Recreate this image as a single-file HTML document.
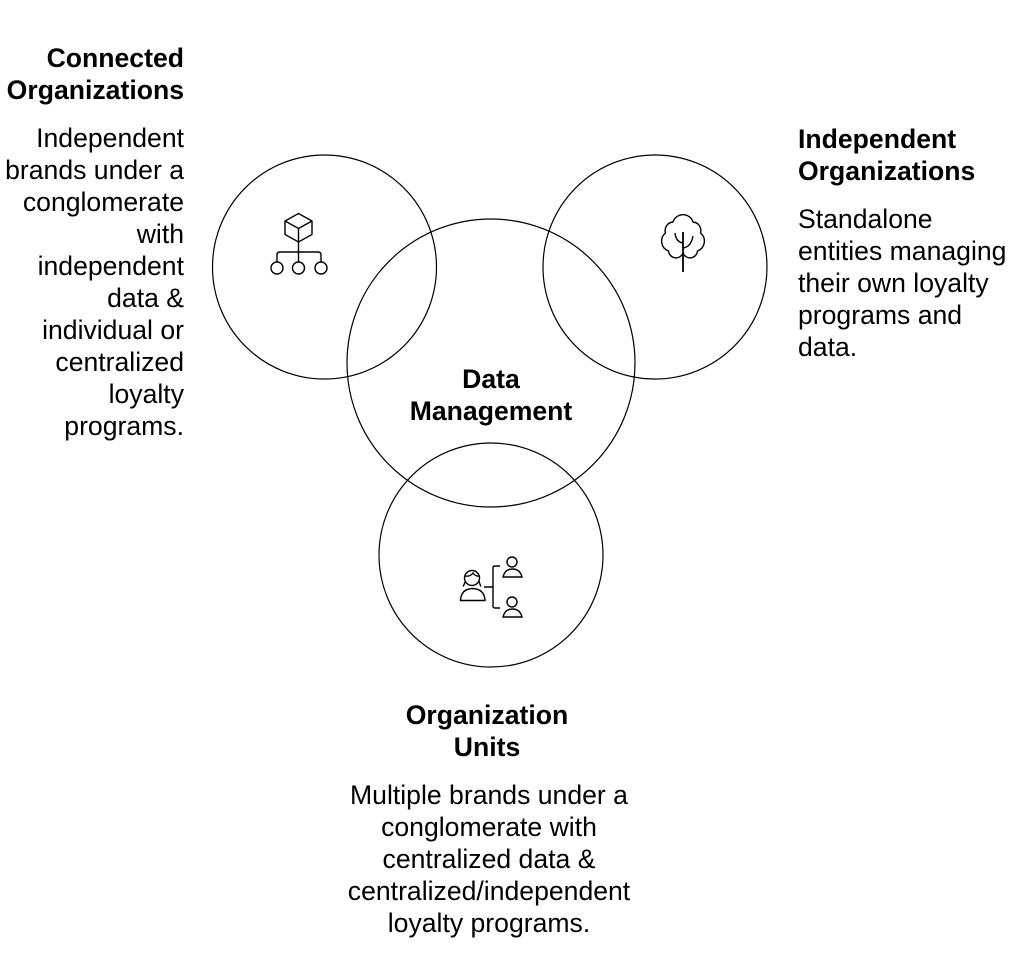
<!DOCTYPE html>
<html><head><meta charset="utf-8"><style>
html,body{margin:0;padding:0;background:#fff}
svg{display:block}
text{font-family:"Liberation Sans",Arial,sans-serif;font-size:26.6px;fill:#000}
.b{font-weight:700}
.e{text-anchor:end}.m{text-anchor:middle}
.l{fill:none;stroke:#000;stroke-width:1.2}
.i{fill:none;stroke:#000;stroke-width:1.4}
</style></head><body>
<svg width="1016" height="972" viewBox="0 0 1016 972" xmlns="http://www.w3.org/2000/svg">
<circle class="l" cx="324.5" cy="267" r="112"/>
<circle class="l" cx="655" cy="267" r="112"/>
<circle class="l" cx="491" cy="363" r="144"/>
<circle class="l" cx="491" cy="555" r="112"/>

<g class="i">
<path d="M298.5 213.5L312 221V234.500L298.500 242L285 234.500V221Z"/>
<path d="M285 221L298.500 228.500L312 221M298.500 228.500V242"/>
<path d="M298.500 242V262M277 262V255Q277 252 280 252H318Q321 252 321 255V262"/>
<circle cx="277" cy="268" r="6"/><circle cx="298.500" cy="268" r="6"/><circle cx="321" cy="268" r="6"/>
</g>

<g class="i">
<path d="M683 232V272" stroke-width="1.8"/>
<path d="M675 233Q676 242 683 243M693 236Q691 247 683 248"/>
<path d="M683 253A7.500 7.500 0 0 1 668.500 251A10.500 10.500 0 0 1 665.500 233A8.500 8.500 0 0 1 673 222A10.500 10.500 0 0 1 693 222A8.500 8.500 0 0 1 700.500 233A10.500 10.500 0 0 1 697.500 251A7.500 7.500 0 0 1 683 253Z"/>
</g>

<g class="i">
<circle cx="472" cy="578" r="7.500"/>
<path d="M465 576Q470 577 473 573Q476 577 480 576M465.500 581Q464 585 463 586.500M479 581Q480 585 481 586.500"/>
<path d="M460.500 600.500H485Q484.500 589 472.500 588.500Q461 589 460.500 600.500Z"/>
<path d="M484 587H493M500 566H495Q493 566 493 568V606Q493 608 495 608H500"/>
<circle cx="512" cy="562" r="5"/><path d="M503 577H522Q520 569 512.500 569Q505 569 503 577Z"/>
<circle cx="512" cy="602" r="5"/><path d="M503 617H522Q520 609 512.500 609Q505 609 503 617Z"/>
</g>

<text class="b e" x="184" y="67">Connected</text>
<text class="b e" x="184" y="99">Organizations</text>
<text class="e" x="184" y="147">Independent</text>
<text class="e" x="184" y="179">brands under a</text>
<text class="e" x="184" y="211">conglomerate</text>
<text class="e" x="184" y="243">with</text>
<text class="e" x="184" y="275">independent</text>
<text class="e" x="184" y="307">data &amp;</text>
<text class="e" x="184" y="339">individual or</text>
<text class="e" x="184" y="371">centralized</text>
<text class="e" x="184" y="403">loyalty</text>
<text class="e" x="184" y="435">programs.</text>

<text class="b" x="798" y="148">Independent</text>
<text class="b" x="798" y="180">Organizations</text>
<text x="798" y="228">Standalone</text>
<text x="798" y="260">entities managing</text>
<text x="798" y="292">their own loyalty</text>
<text x="798" y="324">programs and</text>
<text x="798" y="356">data.</text>

<text class="b m" x="491" y="388">Data</text>
<text class="b m" x="491" y="420">Management</text>

<text class="b m" x="487" y="724">Organization</text>
<text class="b m" x="487" y="756">Units</text>
<text class="m" x="489" y="804">Multiple brands under a</text>
<text class="m" x="489" y="836">conglomerate with</text>
<text class="m" x="489" y="868">centralized data &amp;</text>
<text class="m" x="489" y="900">centralized/independent</text>
<text class="m" x="489" y="932">loyalty programs.</text>
</svg>
</body></html>
